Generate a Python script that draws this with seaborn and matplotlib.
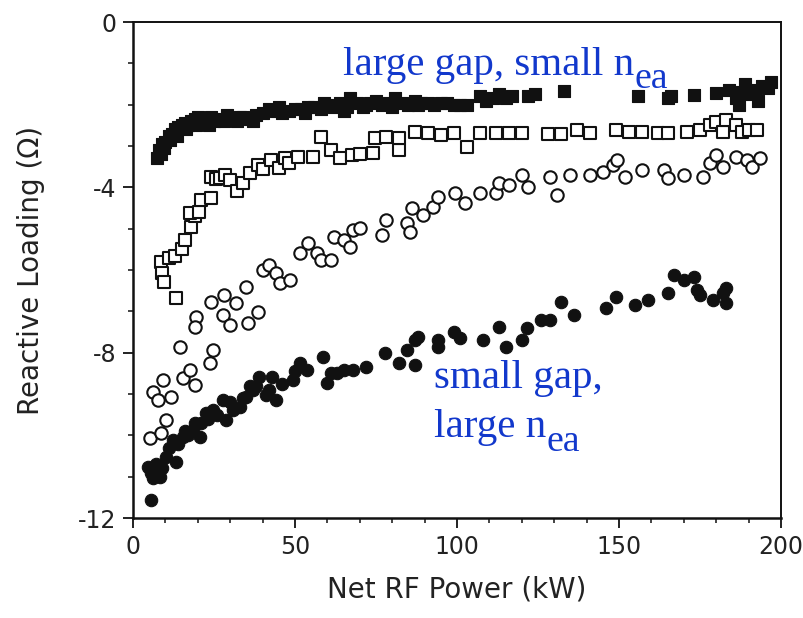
import numpy as np
import pandas as pd
import matplotlib
matplotlib.use("Agg")
import matplotlib.pyplot as plt
from matplotlib.ticker import MultipleLocator
import seaborn as sns

# Reactive loading (ohm) versus net RF power (kW) for four antenna configurations
filled_sq_x = [7.5, 8, 8.5, 9, 10, 11, 12, 13, 14, 15, 16, 17, 18, 19, 20, 21, 22, 23, 24, 25,
               26, 28, 30, 32, 34, 36, 38, 40, 42, 44, 46, 48, 50, 52, 54, 56, 58, 60, 62, 64,
               66, 67, 69, 71, 73, 75, 77, 79, 81, 83, 85, 87, 89, 91, 93, 95, 97, 99, 101, 103,
               107, 109, 111, 113, 115, 117, 122, 124, 133, 156, 165, 166, 173, 180, 184, 186,
               187, 188, 189, 190, 192, 193, 194, 196, 197,
               9.5, 11.5, 13.5, 16.5, 19.5, 23.5, 29, 33, 37, 45, 53, 59, 65, 72, 80, 88]
filled_sq_y = [-3.3, -3.1, -3.2, -2.95, -2.9, -2.75, -2.7, -2.6, -2.55, -2.5, -2.45, -2.5, -2.4,
               -2.35, -2.3, -2.45, -2.35, -2.4, -2.3, -2.4, -2.35, -2.4, -2.35, -2.4, -2.3, -2.35,
               -2.25, -2.2, -2.1, -2.15, -2.2, -2.15, -2.1, -2.1, -2.05, -2.05, -2.1, -2.0, -2.05,
               -1.95, -2.05, -1.85, -1.95, -2.05, -1.95, -1.9, -2.0, -1.95, -1.85, -1.95, -2.0,
               -1.9, -1.95, -1.95, -2.0, -1.95, -1.95, -2.0, -2.0, -2.0, -1.8, -1.9, -1.85, -1.75,
               -1.85, -1.8, -1.8, -1.75, -1.68, -1.8, -1.85, -1.8, -1.77, -1.72, -1.65, -1.85,
               -2.0, -1.7, -1.5, -1.75, -1.65, -1.9, -1.55, -1.6, -1.45,
               -3.05, -2.85, -2.75, -2.6, -2.5, -2.5, -2.25, -2.3, -2.4, -2.05, -2.2, -1.95,
               -2.15, -2.0, -2.05, -2.0]

open_sq_x = [8.6, 9, 9.5, 13.3, 11, 13, 15, 16, 18, 19, 17.5, 20.5, 21, 24, 24, 25.5, 27, 28.5,
             30, 32, 34, 36, 38.6, 40, 42.6, 45, 47, 48, 51, 55.6, 58, 61, 64, 67.6, 70, 74,
             74.7, 78, 82, 82, 87, 91, 95, 99, 103, 107, 112, 116, 120, 128, 132, 137, 141, 149,
             153, 157, 162, 165, 171, 175, 178, 180, 182, 183, 186, 188, 190, 192.5]
open_sq_y = [-5.8, -6.08, -6.3, -6.68, -5.7, -5.65, -5.5, -5.28, -4.96, -4.7, -4.63, -4.6, -4.3,
             -4.27, -3.75, -3.8, -3.78, -3.7, -3.83, -4.1, -3.9, -3.66, -3.46, -3.55, -3.34,
             -3.53, -3.3, -3.4, -3.27, -3.27, -2.78, -3.1, -3.29, -3.22, -3.2, -3.17, -2.8,
             -2.78, -3.1, -2.8, -2.66, -2.69, -2.73, -2.69, -3.03, -2.69, -2.69, -2.69, -2.69,
             -2.72, -2.72, -2.61, -2.69, -2.61, -2.67, -2.67, -2.69, -2.69, -2.67, -2.61, -2.5,
             -2.42, -2.67, -2.37, -2.5, -2.67, -2.61, -2.61]

open_ci_x = [5.2, 8.6, 10.2, 6.2, 9.3, 7.7, 11.7, 14.5, 15.4, 17.6, 19, 23.8, 24.7, 19.4, 19, 24,
             28, 27.8, 30, 31.8, 35, 35.5, 38.6, 40, 42, 44, 45.4, 48.5, 51.5, 54, 56.8, 58, 61,
             62, 65, 67, 68, 70, 77, 78, 84.5, 85.5, 86, 89.5, 92.6, 94, 99.4, 102.5, 107, 112,
             113, 116, 120, 122, 128.7, 131, 135, 141, 145, 148, 149.5, 152, 157, 164, 165, 170,
             176, 178, 180, 182, 186, 189.5, 191, 193.5]
open_ci_y = [-10.07, -9.95, -9.64, -8.96, -8.67, -9.15, -9.08, -7.87, -8.62, -8.43, -8.79, -8.26,
             -7.94, -7.14, -7.38, -6.78, -6.6, -7.09, -7.34, -6.8, -6.4, -7.29, -7.02, -6.0,
             -5.88, -6.08, -6.32, -6.25, -5.6, -5.35, -5.6, -5.76, -5.76, -5.2, -5.28, -5.45,
             -5.04, -4.99, -5.16, -4.79, -4.87, -5.08, -4.5, -4.67, -4.48, -4.24, -4.14, -4.38,
             -4.14, -4.14, -3.9, -3.95, -3.7, -4.0, -3.75, -4.19, -3.7, -3.7, -3.63, -3.46,
             -3.34, -3.75, -3.58, -3.58, -3.78, -3.7, -3.75, -3.41, -3.22, -3.5, -3.27, -3.34,
             -3.5, -3.29]

filled_ci_x = [5.6, 4.6, 6.2, 8.3, 7, 5.5, 9, 10.2, 11, 13.3, 12.3, 14, 15.4, 16, 17, 18.5, 19,
               20.7, 21, 22.5, 23, 24.7, 26, 27.8, 28.7, 30, 31, 33, 34, 35, 36, 37, 38, 39, 41,
               42, 43, 44, 46, 49.4, 50, 51.5, 53.7, 58.6, 60, 61, 63, 65, 68, 72, 77.8, 82,
               84.6, 87, 88, 87, 94, 94, 99, 101, 108, 113, 115, 120, 121.6, 126, 128.7, 132,
               136, 146, 149, 155, 159, 165, 167, 170, 173, 174, 175, 179, 182, 183, 183]
filled_ci_y = [-11.57, -10.77, -11.04, -11.0, -10.7, -10.9, -10.8, -10.53, -10.3, -10.65, -10.12,
               -10.2, -10.05, -9.9, -10.0, -9.88, -9.7, -10.05, -9.7, -9.47, -9.6, -9.39, -9.5,
               -9.15, -9.64, -9.2, -9.39, -9.32, -9.1, -9.08, -8.8, -8.91, -8.8, -8.6, -9.03,
               -8.9, -8.6, -9.15, -8.75, -8.67, -8.45, -8.26, -8.43, -8.1, -8.74, -8.5, -8.5,
               -8.43, -8.43, -8.35, -8.0, -8.26, -7.94, -7.7, -7.63, -8.3, -7.87, -7.7, -7.5,
               -7.65, -7.7, -7.38, -7.87, -7.7, -7.41, -7.22, -7.22, -6.78, -7.09, -6.92, -6.66,
               -6.85, -6.73, -6.56, -6.13, -6.25, -6.17, -6.49, -6.6, -6.73, -6.56, -6.44, -6.8]

x_ticks = [0, 50, 100, 150, 200]
y_ticks = [0, -4, -8, -12]

sns.set_theme(style="ticks")
plt.rcParams["font.family"] = ["DejaVu Sans"]

fig = plt.figure(figsize=(8.04, 6.18), dpi=100)
ax = fig.add_axes([0.1654, 0.1618, 0.8060, 0.8026])

ink = "#111111"
sns.scatterplot(x=filled_ci_x, y=filled_ci_y, ax=ax, marker="o", s=80,
                color=ink, edgecolor=ink, linewidth=0.8, zorder=3)
sns.scatterplot(x=open_ci_x, y=open_ci_y, ax=ax, marker="o", s=80,
                facecolor="white", edgecolor=ink, linewidth=1.5, zorder=4)
sns.scatterplot(x=open_sq_x, y=open_sq_y, ax=ax, marker="s", s=72,
                facecolor="white", edgecolor=ink, linewidth=1.5, zorder=4)
sns.scatterplot(x=filled_sq_x, y=filled_sq_y, ax=ax, marker="s", s=72,
                color=ink, edgecolor=ink, linewidth=0.8, zorder=5)

ax.set_xlim(0, 200)
ax.set_ylim(-12, 0)
ax.set_xticks(x_ticks)
ax.set_yticks(y_ticks)
ax.set_xticklabels([str(v) for v in x_ticks])
ax.set_yticklabels([str(v) for v in y_ticks])
ax.xaxis.set_minor_locator(MultipleLocator(10))
ax.yaxis.set_minor_locator(MultipleLocator(1))
ax.tick_params(which="major", direction="out", length=7, width=1.3, colors=ink,
               labelsize=17, labelcolor="#222222", pad=5)
ax.tick_params(which="minor", direction="out", length=3.5, width=1.1, colors=ink)
for side, lw in {"left": 1.8, "bottom": 1.8, "top": 1.4, "right": 1.4}.items():
    ax.spines[side].set_color(ink)
    ax.spines[side].set_linewidth(lw)

ax.set_xlabel("Net RF Power (kW)", fontsize=20, color="#222222", labelpad=12)
ax.set_ylabel("Reactive Loading (\u03a9)", fontsize=20, color="#222222", labelpad=24)

# Blue serif annotations with a lowered "ea" subscript
blue = "#1238CC"
serif = ["Liberation Serif", "DejaVu Serif"]

def label_with_sub(x, y, main, sub, size):
    t = ax.text(x, y, main, color=blue, fontsize=size, family=serif,
                va="baseline", ha="left", zorder=6)
    ax.annotate(sub, xy=(1, 0), xycoords=t, xytext=(0, -3.0),
                textcoords="offset points", color=blue, fontsize=size * 0.92,
                family=serif, va="baseline", ha="left", zorder=6)
    return t

label_with_sub(64.8, -1.28, "large gap, small n", "ea", 29.5)
ax.text(93.0, -8.86, "small gap,", color=blue, fontsize=29.5, family=serif,
        va="baseline", ha="left", zorder=6)
label_with_sub(93.0, -10.05, "large n", "ea", 29.5)

fig.savefig("out.png", dpi=100, facecolor="white")
